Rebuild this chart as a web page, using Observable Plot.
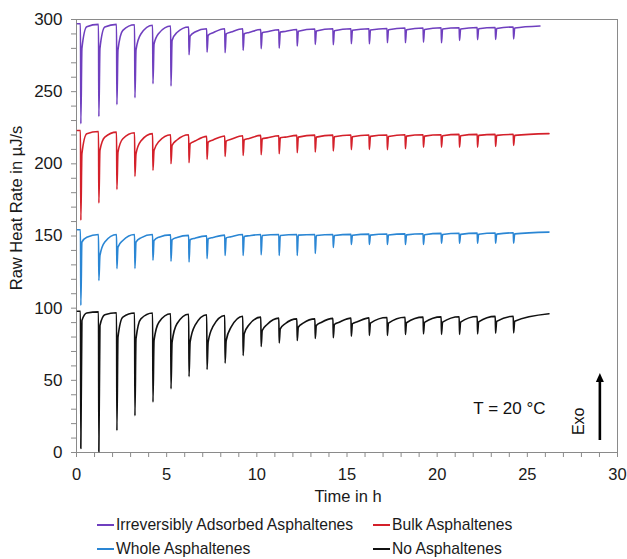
<!DOCTYPE html>
<html><head><meta charset="utf-8">
<script src="https://cdn.jsdelivr.net/npm/d3@7"></script>
<script src="https://cdn.jsdelivr.net/npm/@observablehq/plot@0.6"></script>
<style>
body{margin:0;background:#fff;font-family:"Liberation Sans",Arial,sans-serif;}
#wrap{position:relative;width:627px;height:559px;overflow:hidden;}
.leg{position:absolute;font-size:15.7px;color:#1a1a1a;display:flex;align-items:center;white-space:nowrap;line-height:1;height:18px;}
.leg i{display:inline-block;width:17px;height:2px;margin-right:2px;}
</style></head><body><div id="wrap"></div>
<script>
// Injection times (h)
const injTimes = [0.22,1.22,2.22,3.22,4.22,5.22,6.22,7.22,8.22,9.22,10.22,11.22,12.22,13.22,14.22,15.22,16.22,17.22,18.22,19.22,20.22,21.22,22.22,23.22,24.22];

const seriesNames = ["Irreversibly Adsorbed Asphaltenes","Bulk Asphaltenes","Whole Asphaltenes","No Asphaltenes"];
const seriesColors = ["#6f3fbf","#d4202a","#2a86d4","#111111"];
const startTimes = [0.05,0.05,0.05,0.05];
const endTimes = [25.7,26.2,26.2,26.2];

// Irreversibly Adsorbed Asphaltenes
const purplePre = [297.1,296.6,296.6,296.4,296.0,295.5,294.8,293.6,293.6,293.6,293.1,292.9,293.1,293.4,293.6,293.6,293.6,293.8,294.1,294.1,294.3,294.3,294.5,294.5,294.8,295.5];
const purpleMin = [227.8,232.8,241.0,245.8,255.5,253.9,275.6,277.4,277.0,278.6,279.8,280.2,281.6,282.8,282.5,283.2,283.2,283.9,283.9,284.3,283.9,285.5,286.0,286.2,286.6];
const purpleKnee = [280,280,279,279,283,285.5,288.5,289,290.1,290.1,290.8,291.3,291.8,292.0,292.2,292.5,292.7,292.9,292.9,293.1,293.4,293.4,293.6,293.8,294.1];
const purpleMid = [295,294.8,292.5,290,290.5,291,291.3,290.8,291.3,291,291.5,291.7,null,null,null,null,null,null,null,null,null,null,null,null,null];

// Bulk Asphaltenes
const redPre = [223.1,222.4,222.0,221.5,220.9,220.2,220.2,219.0,219.3,219.5,219.7,219.5,219.7,219.9,219.9,220.0,220.0,220.0,220.2,220.2,220.2,220.4,220.4,220.4,220.4,220.9];
const redMin = [160.9,172.9,182.3,191.3,195.5,200.1,200.8,203.1,205.2,205.8,206.3,207.0,207.7,208.2,208.9,209.8,210.0,209.8,210.5,211.6,211.6,211.6,211.6,212.1,212.8];
const redKnee = [207,209.3,208.2,207,209.3,212.8,213.9,215.1,215.8,216.7,217.4,218.0,218.5,218.5,218.7,218.7,219.0,219.0,219.2,219.2,219.5,219.5,219.7,219.7,219.7];
const redMid = [220.9,218.5,217.4,215.8,215.5,216.5,215.8,216.5,217.0,217.6,218.0,218.5,null,null,null,null,null,null,null,null,null,null,null,null,null];

// Whole Asphaltenes
const bluePre = [154.3,151.0,151.0,151.0,151.0,150.8,150.4,150.1,150.6,151.0,151.0,151.0,151.0,151.0,151.0,151.1,151.3,151.4,151.5,151.6,151.8,151.9,152.0,152.1,152.2,152.7];
const blueMin = [101.9,119.2,127.4,127.4,133.2,132.5,132.0,134.3,136.5,136.5,137.0,136.5,136.5,137.9,142.0,144.2,144.1,144.1,144.1,144.1,145.0,145.0,145.0,145.0,145.0];
const blueKnee = [145.8,136.5,142.3,145.8,146.9,147.4,147.4,148.1,148.7,149.7,150.4,150.4,150.6,150.4,150.4,150.5,150.6,150.7,150.8,150.9,151.0,151.1,151.2,151.3,151.5];
const blueMid = [149.2,145.8,146.9,148.7,149.2,149.0,148.5,149.0,149.5,150.2,null,null,null,null,null,null,null,null,null,null,null,null,null,null,null];

// No Asphaltenes
const blackPre = [97.9,97.4,96.8,96.6,96.6,96.1,95.8,95.4,94.9,94.4,93.8,93.1,92.6,92.6,92.9,93.1,93.3,93.5,93.7,93.8,94.0,94.1,94.2,94.3,94.4,96.1];
const blackMin = [2.8,0.5,15.2,25.5,34.9,44.1,52.6,57.5,61.9,67.2,73.4,75.9,77.6,79.0,79.5,80.6,81.1,81.1,81.8,82.2,81.8,81.8,82.2,82.7,82.9];
const blackKnee = [91.4,88.0,79.9,78.8,77.6,76.5,76.5,76.5,77.6,82.2,84.5,85.7,86.8,88.0,88.7,89.2,89.6,89.6,89.9,90.1,90.3,90.3,90.5,90.8,91.0];
const blackMid = [96.6,95.4,93.8,92.6,90.3,89.2,88.0,87.3,86.8,88.5,88.7,89.2,89.6,90.1,90.3,90.6,null,null,null,null,null,null,null,null,null];

const yTicks = [0,50,100,150,200,250,300];
const xTicks = [0,5,10,15,20,25,30];

function buildSeries(i, pre, mins, knees, mids) {
  const name = seriesNames[i];
  const pts = [{series: name, t: startTimes[i], v: pre[0]}];
  injTimes.forEach((t0, k) => {
    pts.push({series: name, t: t0, v: pre[k]});
    pts.push({series: name, t: t0 + 0.02, v: mins[k]});
    pts.push({series: name, t: t0 + 0.08, v: knees[k]});
    if (mids[k] != null) pts.push({series: name, t: t0 + 0.35, v: mids[k]});
  });
  pts.push({series: name, t: endTimes[i], v: pre[pre.length - 1]});
  return pts;
}

const data = [
  ...buildSeries(0, purplePre, purpleMin, purpleKnee, purpleMid),
  ...buildSeries(1, redPre, redMin, redKnee, redMid),
  ...buildSeries(2, bluePre, blueMin, blueKnee, blueMid),
  ...buildSeries(3, blackPre, blackMin, blackKnee, blackMid)
];

const chart = Plot.plot({
  width: 627,
  height: 508,
  marginTop: 19,
  marginBottom: 56,
  marginLeft: 76,
  marginRight: 10,
  style: {fontFamily: '"Liberation Sans", Arial, sans-serif', fontSize: "16.5px", color: "#1a1a1a", background: "white"},
  x: {domain: [0, 30]},
  y: {domain: [0, 300]},
  color: {domain: seriesNames, range: seriesColors},
  marks: [
    Plot.frame({stroke: "#8a8a8a"}),
    Plot.axisY({ticks: d3.range(0, 301, 10), tickFormat: d => yTicks.includes(d) ? String(d) : "", tickSize: 5, tickPadding: 9, stroke: "#8a8a8a", label: null, fontSize: "17px"}),
    Plot.axisX({ticks: d3.range(0, 31, 1), tickFormat: d => xTicks.includes(d) ? String(d) : "", tickSize: 5, tickPadding: 11, stroke: "#8a8a8a", label: null}),
    Plot.line(data, {x: "t", y: "v", z: "series", stroke: "series", strokeWidth: 1.6, curve: "monotone-x"}),
    Plot.text(["T = 20 °C"], {frameAnchor: "bottom-right", dx: -72, dy: -39, textAnchor: "end", fontSize: 17, fill: "#111"}),
    Plot.text(["Exo"], {frameAnchor: "bottom-right", dx: -34, dy: -45, rotate: -90, fontSize: 16, fill: "#111"})
  ]
});

const wrap = document.getElementById("wrap");
wrap.appendChild(chart);
const svg = d3.select(chart);
const xs = chart.scale("x"), ys = chart.scale("y");

// Exo arrow
const ax = xs.apply(29.05), ay1 = ys.apply(8.3), ay2 = ys.apply(54.7);
svg.append("line").attr("x1", ax).attr("x2", ax).attr("y1", ay1).attr("y2", ay2 + 7)
  .attr("stroke", "#000").attr("stroke-width", 2.6);
svg.append("path").attr("d", `M${ax},${ay2}L${ax-4},${ay2+9}L${ax+4},${ay2+9}Z`).attr("fill", "#000");

// axis titles
svg.append("text").attr("transform", `translate(18,208) rotate(-90)`).attr("text-anchor", "middle")
  .attr("dominant-baseline", "middle").attr("font-size", "16.5px").attr("fill", "#1a1a1a").text("Raw Heat Rate in µJ/s");
svg.append("text").attr("x", 348).attr("y", 498).attr("text-anchor", "middle")
  .attr("dominant-baseline", "middle").attr("font-size", "16.5px").attr("fill", "#1a1a1a").text("Time in h");

// legend
const legPos = [[97, 516], [373, 516], [97, 540], [373, 540]];
seriesNames.forEach((n, i) => {
  const d = document.createElement("div");
  d.className = "leg";
  d.style.left = legPos[i][0] + "px";
  d.style.top = legPos[i][1] + "px";
  d.innerHTML = `<i style="background:${seriesColors[i]}"></i>` + n;
  wrap.appendChild(d);
});
</script></body></html>
